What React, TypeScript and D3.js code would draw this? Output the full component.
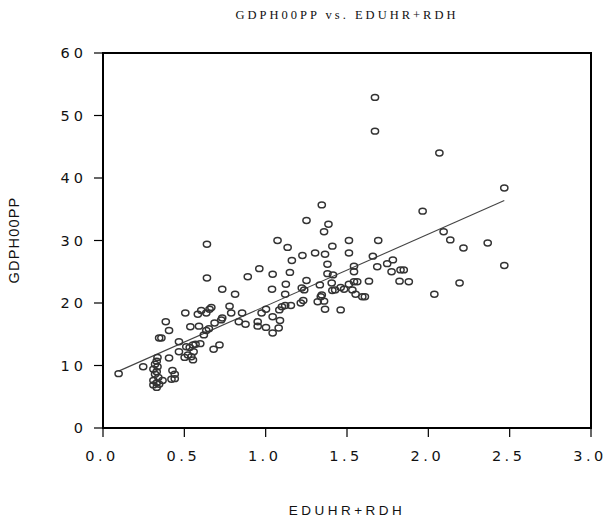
import React from 'react';
import * as d3 from 'd3';

// Scatter data (x = EDUHR+RDH, y = GDPH00PP)
const eduhrRdh = [
  0.096, 0.247,
  0.335, 0.33, 0.32, 0.335, 0.31, 0.33, 0.32, 0.34, 0.31, 0.33, 0.31, 0.33, 0.345, 0.366,
  0.345, 0.359, 0.386, 0.406, 0.406, 0.427, 0.441, 0.421, 0.441, 0.467, 0.467,
  0.506, 0.502, 0.522, 0.543, 0.553, 0.512, 0.553, 0.569, 0.598, 0.537, 0.59, 0.557, 0.533,
  0.583, 0.604, 0.635, 0.655, 0.666, 0.62, 0.635, 0.651, 0.686, 0.727, 0.68, 0.716,
  0.639, 0.639, 0.733, 0.733, 0.778, 0.788, 0.812, 0.835, 0.876, 0.855, 0.89,
  0.951, 0.951, 0.961, 0.975, 1.002, 1.002,
  1.039, 1.043, 1.043, 1.043, 1.08, 1.088, 1.073, 1.084, 1.1, 1.12, 1.12, 1.124,
  1.135, 1.149, 1.155, 1.161, 1.216, 1.231, 1.222, 1.237, 1.226, 1.251, 1.251,
  1.304, 1.32, 1.339, 1.345, 1.359, 1.333, 1.345, 1.359, 1.386, 1.365, 1.38, 1.38,
  1.414, 1.365, 1.406, 1.41, 1.427, 1.41, 1.461, 1.482, 1.461,
  1.512, 1.512, 1.512, 1.533, 1.543, 1.563, 1.543, 1.543, 1.553, 1.594, 1.61,
  1.635, 1.659, 1.672, 1.672, 1.686, 1.692, 1.747, 1.782, 1.774, 1.829, 1.849,
  1.823, 1.88, 1.965, 2.037, 2.068, 2.094, 2.135, 2.192, 2.216, 2.365, 2.467, 2.467,
];
const gdph00pp = [
  8.7, 9.8,
  11.3, 10.7, 10.2, 9.8, 9.4, 9.0, 8.6, 8.1, 7.6, 7.2, 6.9, 6.5, 7.0, 7.6,
  14.4, 14.4, 17.0, 15.6, 11.2, 9.2, 8.6, 7.8, 7.9, 13.8, 12.2,
  18.4, 11.3, 11.7, 11.4, 10.9, 13.0, 13.3, 13.4, 13.5, 16.2, 16.3, 12.2, 12.9,
  18.2, 18.8, 18.4, 19.0, 19.3, 14.9, 15.6, 15.9, 16.8, 17.3, 12.6, 13.3,
  24.0, 29.4, 22.2, 17.6, 19.5, 18.4, 21.4, 17.0, 16.6, 18.4, 24.2,
  17.0, 16.3, 25.5, 18.4, 19.0, 16.1,
  22.2, 24.6, 17.8, 15.2, 16.0, 17.2, 30.0, 18.9, 19.4, 19.6, 21.4, 23.0,
  28.9, 24.9, 19.6, 26.8, 20.0, 20.4, 22.4, 22.1, 27.6, 23.6, 33.2,
  28.0, 20.2, 21.0, 21.3, 20.3, 22.9, 35.7, 31.4, 32.6, 27.8, 26.2, 24.7,
  24.5, 19.0, 23.2, 22.0, 22.1, 29.1, 22.5, 22.2, 18.9,
  30.0, 28.0, 23.0, 22.1, 23.4, 23.4, 25.9, 25.0, 21.4, 21.0, 21.0,
  23.5, 27.5, 52.9, 47.5, 25.8, 30.0, 26.3, 26.9, 25.0, 25.3, 25.3,
  23.5, 23.4, 34.7, 21.4, 44.0, 31.4, 30.1, 23.2, 28.8, 29.6, 38.4, 26.0,
];

// Fitted regression line end points
const fitX = [0.096, 2.467];
const fitY = [9.1, 36.4];

const xTicks = [0, 0.5, 1.0, 1.5, 2.0, 2.5, 3.0];
const yTicks = [0, 10, 20, 30, 40, 50, 60];

const titleText = 'GDPH00PP vs. EDUHR+RDH';
const xLabel = 'EDUHR+RDH';
const yLabel = 'GDPH00PP';

export default function App() {
  const W = 606, H = 522;
  const left = 103, right = 591, top = 53, bottom = 428;
  const x = d3.scaleLinear().domain([0, 3]).range([left, right]);
  const y = d3.scaleLinear().domain([0, 60]).range([bottom, top]);
  const pts = eduhrRdh.map((v, i) => [v, gdph00pp[i]]);
  const line = d3.line<number>().x((d) => x(fitX[d])).y((d) => y(fitY[d]))([0, 1]) || '';
  const tickFont = "'DejaVu Sans', Arial, sans-serif";
  return (
    <svg width={W} height={H} style={{ position: 'absolute', left: 0, top: 0, background: '#fff' }}>
      <rect x={0} y={0} width={W} height={H} fill="#fff" />
      <text x={347} y={19} textAnchor="middle" fontFamily="'Liberation Serif', 'Times New Roman', serif"
        fontSize={12.5} letterSpacing={3} fill="#111">{titleText}</text>
      {/* frame */}
      <rect x={left} y={top} width={right - left} height={bottom - top} fill="none" stroke="#000" strokeWidth={2} />
      {/* y ticks */}
      {yTicks.map((t) => (
        <g key={'y' + t}>
          <line x1={left - 9} x2={left} y1={y(t)} y2={y(t)} stroke="#000" strokeWidth={1.2} />
          <text x={left - 16} y={y(t) + 5} textAnchor="end" fontFamily={tickFont} fontSize={14.5}
            letterSpacing={4} fill="#111">{String(t)}</text>
        </g>
      ))}
      {xTicks.map((t) => (
        <g key={'x' + t}>
          <line x1={x(t)} x2={x(t)} y1={bottom} y2={bottom + 9} stroke="#000" strokeWidth={1.2} />
          <text x={x(t) - 1} y={461} textAnchor="middle" fontFamily={tickFont} fontSize={14.5}
            letterSpacing={3.5} fill="#111">{d3.format('.1f')(t)}</text>
        </g>
      ))}
      <text x={347} y={515} textAnchor="middle" fontFamily="Arial, 'Liberation Sans', sans-serif" fontSize={13.5}
        letterSpacing={3.5} fill="#111">{xLabel}</text>
      <text transform={`translate(19,${240}) rotate(-90)`} textAnchor="middle"
        fontFamily="Arial, 'Liberation Sans', sans-serif" fontSize={14.5} letterSpacing={1.2} fill="#111">{yLabel}</text>
      <path d={line} fill="none" stroke="#444" strokeWidth={1.1} />
      {pts.map((p, i) => (
        <ellipse key={i} cx={x(p[0])} cy={y(p[1])} rx={3.6} ry={2.9} fill="none" stroke="#333" strokeWidth={1.5} />
      ))}
    </svg>
  );
}
